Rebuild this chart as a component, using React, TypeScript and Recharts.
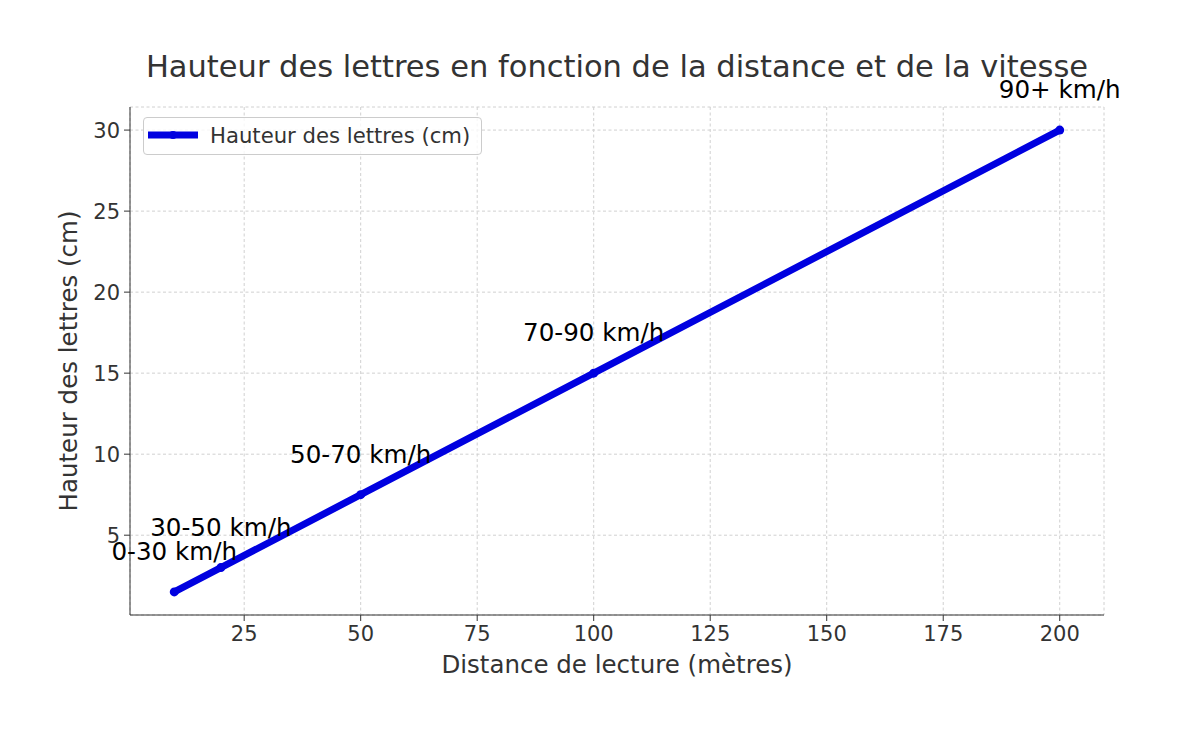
import React from "react";
import {
  LineChart,
  Line,
  XAxis,
  YAxis,
  CartesianGrid,
  LabelList,
  Label,
} from "recharts";

const distances = [10, 20, 50, 100, 200];
const heights = [1.5, 3, 7.5, 15, 30];
const speedLabels = ["0-30 km/h", "30-50 km/h", "50-70 km/h", "70-90 km/h", "90+ km/h"];
const xTicks = [25, 50, 75, 100, 125, 150, 175, 200];
const yTicks = [5, 10, 15, 20, 25, 30];

const data = distances.map((d, i) => ({
  distance: d,
  hauteur: heights[i],
  vitesse: speedLabels[i],
}));

const FONT = "DejaVu Sans, sans-serif";
const BLUE = "#0000e0";
const DARK = "#333333";

function SpeedLabel(props: any) {
  const { x, y, value } = props;
  return (
    <text x={x} y={y - 32} textAnchor="middle" fontSize={24.6} fill="#000" fontFamily={FONT}>
      {value}
    </text>
  );
}

function LegendBox() {
  return (
    <div
      style={{
        position: "absolute",
        left: 143,
        top: 117,
        width: 337,
        height: 36,
        border: "1px solid #cccccc",
        borderRadius: 4,
        background: "rgba(255,255,255,0.8)",
        fontFamily: FONT,
      }}
    >
      <svg width={337} height={36} style={{ position: "absolute", left: 0, top: 0 }}>
        <line x1={4} y1={17} x2={54} y2={17} stroke={BLUE} strokeWidth={7} />
        <circle cx={29} cy={17} r={4} fill={BLUE} />
        <text x={66} y={25} fontSize={21.2} fill={DARK} fontFamily={FONT}>
          Hauteur des lettres (cm)
        </text>
      </svg>
    </div>
  );
}

export default function App() {
  return (
    <div style={{ position: "absolute", left: 0, top: 0, width: 1179, height: 753, background: "#fff" }}>
      <div
        style={{
          position: "absolute",
          left: 30,
          width: 1174,
          top: 52,
          textAlign: "center",
          fontFamily: FONT,
          fontSize: 30.5,
          lineHeight: "30px",
          color: DARK,
          whiteSpace: "nowrap",
        }}
      >
        Hauteur des lettres en fonction de la distance et de la vitesse
      </div>
      <LineChart
        width={1179}
        height={753}
        data={data}
        margin={{ top: 107, right: 75, bottom: 78, left: 60 }}
      >
        <CartesianGrid stroke="#d0d0d0" strokeDasharray="3 2.5" />
        <XAxis
          dataKey="distance"
          type="number"
          domain={[0.5, 209.5]}
          ticks={xTicks}
          height={60}
          allowDataOverflow
          stroke={DARK}
          tickSize={6}
          tickMargin={5}
          tick={{ fill: DARK, fontSize: 21, fontFamily: FONT }}
        >
          <Label
            content={(p: any) => {
              const vb = p.viewBox;
              return (
                <text
                  x={vb.x + vb.width / 2}
                  y={673}
                  textAnchor="middle"
                  fontSize={24.5}
                  fill={DARK}
                  fontFamily={FONT}
                >
                  Distance de lecture (mètres)
                </text>
              );
            }}
          />
        </XAxis>
        <YAxis
          type="number"
          domain={[0.075, 31.425]}
          ticks={yTicks}
          width={70}
          allowDataOverflow
          stroke={DARK}
          tickSize={6}
          tickMargin={4}
          tick={{ fill: DARK, fontSize: 21, fontFamily: FONT }}
        >
          <Label
            content={() => (
              <text
                x={77}
                y={361}
                transform="rotate(-90, 77, 361)"
                textAnchor="middle"
                fontSize={24.5}
                fill={DARK}
                fontFamily={FONT}
              >
                Hauteur des lettres (cm)
              </text>
            )}
          />
        </YAxis>
        <Line
          dataKey="hauteur"
          type="linear"
          stroke={BLUE}
          strokeWidth={7}
          strokeLinecap="round"
          dot={{ r: 4.5, fill: BLUE, stroke: BLUE, strokeWidth: 0 }}
          activeDot={false}
          isAnimationActive={false}
        >
          <LabelList dataKey="vitesse" content={SpeedLabel} />
        </Line>
      </LineChart>
      <LegendBox />
    </div>
  );
}
